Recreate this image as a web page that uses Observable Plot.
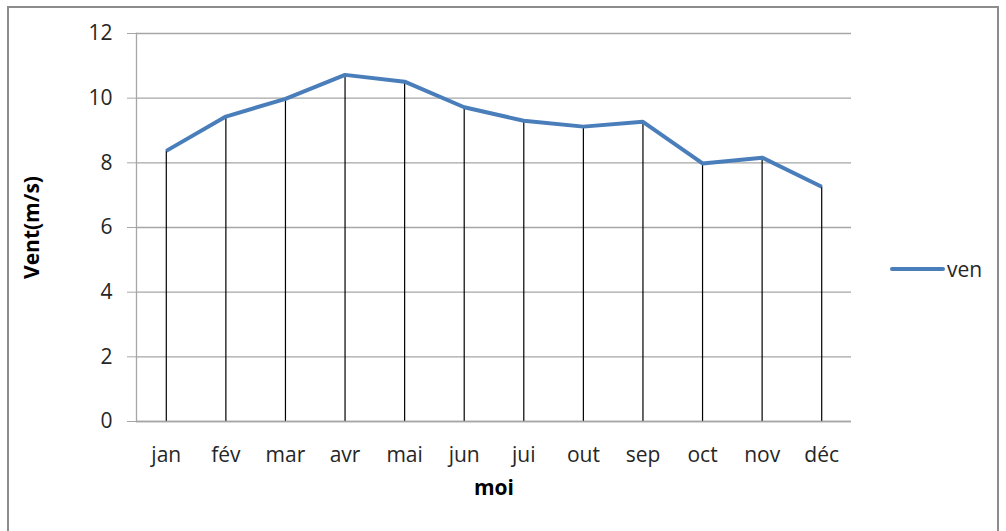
<!DOCTYPE html>
<html>
<head>
<meta charset="utf-8">
<script src="https://cdn.jsdelivr.net/npm/d3@7"></script>
<script src="https://cdn.jsdelivr.net/npm/@observablehq/plot@0.6"></script>
<style>
  html, body { margin: 0; padding: 0; background: #fff; }
  #wrap { position: relative; width: 1006px; height: 531px; overflow: hidden; }
  #frame { position: absolute; left: 7px; top: 6px; width: 992px; height: 540px; border: 2px solid #8c8c8c; box-sizing: border-box; pointer-events: none; }
  #legend { position: absolute; left: 890px; top: 255px; font-family: "Open Sans", sans-serif; font-size: 21px; color: #262626; display: flex; align-items: center; }
  #legend .sw { width: 55px; height: 4px; background: #4a7ebb; border-radius: 2px; margin-right: 2px; }
</style>
</head>
<body>
<div id="wrap">
  <div id="chart"></div>
  <div id="legend"><div class="sw"></div><span>ven</span></div>
  <div id="frame"></div>
</div>
<script>
const months = ["jan", "fév", "mar", "avr", "mai", "jun", "jui", "out", "sep", "oct", "nov", "déc"];
const ven = [8.37, 9.43, 9.98, 10.72, 10.51, 9.72, 9.30, 9.12, 9.27, 7.98, 8.16, 7.26];
const yTicks = [0, 2, 4, 6, 8, 10, 12];
const yLabel = "Vent(m/s)";
const xLabel = "moi";

const data = months.map((m, i) => ({month: m, value: ven[i]}));

const chart = Plot.plot({
  width: 1006,
  height: 531,
  marginLeft: 136,
  marginRight: 155,
  marginTop: 33,
  marginBottom: 110,
  style: {fontFamily: "'Open Sans', sans-serif", fontSize: "21px", color: "#262626", background: "transparent"},
  x: {type: "point", domain: months, padding: 0.5, round: false},
  y: {domain: [0, 12]},
  marks: [
    Plot.gridY(yTicks, {stroke: "#a6a6a6", strokeOpacity: 1, strokeWidth: 1.3}),
    Plot.frame({anchor: "left", stroke: "#a6a6a6", strokeWidth: 1.3}),
    Plot.ruleX(data, {x: "month", y1: 0, y2: "value", stroke: "#000", strokeWidth: 1.2}),
    Plot.axisY(yTicks, {tickSize: 9, tickPadding: 15, stroke: "#a6a6a6", fill: "#262626", label: null, tickFormat: d => d}),
    Plot.axisX({tickSize: 0, tickPadding: 26, fill: "#262626", label: null}),
    Plot.text([yLabel], {text: d => d, frameAnchor: "left", textAnchor: "middle", dx: -104, rotate: -90, fontWeight: "bold", fill: "#000", fontSize: 21}),
    Plot.text([xLabel], {text: d => d, frameAnchor: "bottom", dy: 73, fontWeight: "bold", fill: "#000", fontSize: 21}),
    Plot.ruleY([0], {stroke: "#a6a6a6", strokeWidth: 1.3}),
    Plot.lineY(data, {x: "month", y: "value", stroke: "#4a7ebb", strokeWidth: 4, strokeLinejoin: "round", strokeLinecap: "butt"})
  ]
});
document.getElementById("chart").appendChild(chart);
</script>
</body>
</html>
